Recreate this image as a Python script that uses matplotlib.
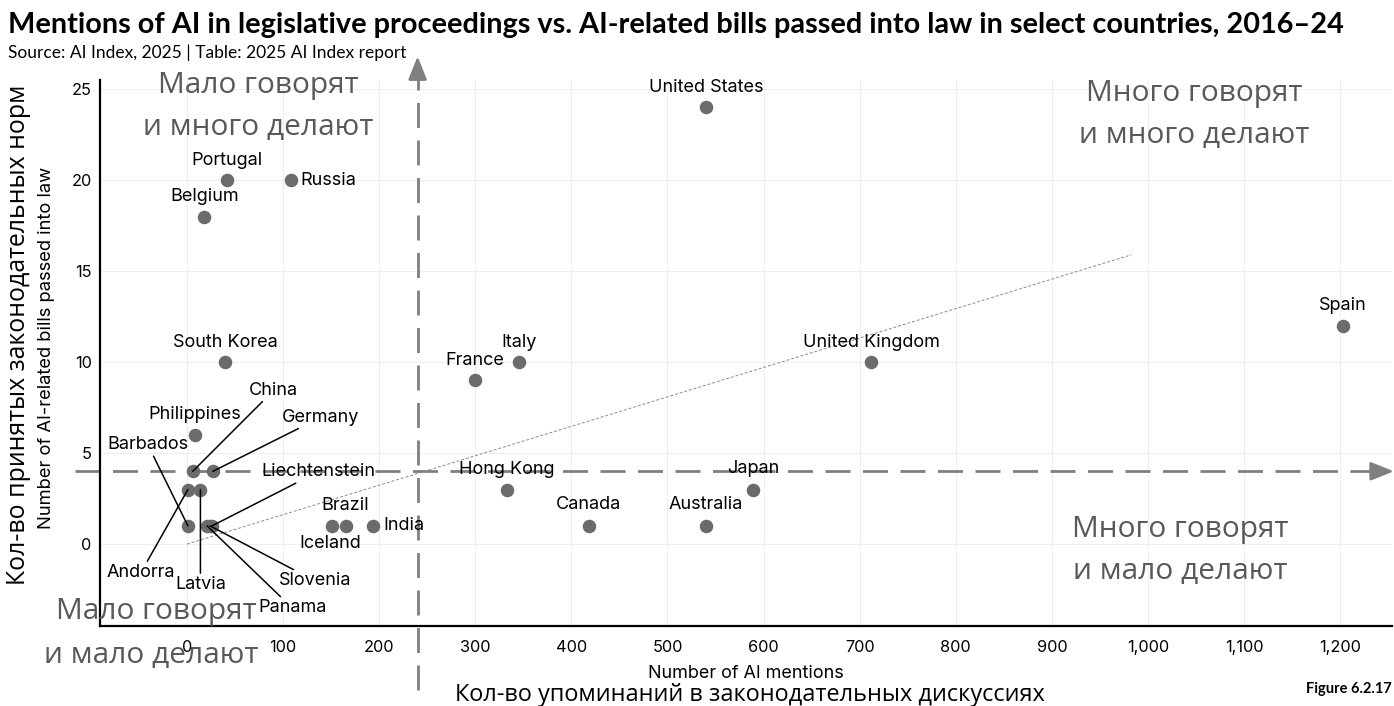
import matplotlib
matplotlib.use("Agg")
import matplotlib.pyplot as plt
from matplotlib.ticker import FuncFormatter

# ---------------- data ----------------
countries = ["United States", "Portugal", "Russia", "Belgium", "South Korea",
             "Philippines", "China", "Germany", "Andorra", "Latvia", "Barbados",
             "Liechtenstein", "Slovenia", "Panama", "Brazil", "Iceland", "India",
             "France", "Italy", "Hong Kong", "Canada", "Australia", "Japan",
             "United Kingdom", "Spain"]
mentions = [540, 42, 108, 18, 40,
            8, 6, 27, 1, 14, 1,
            26, 24, 21, 165, 151, 194,
            300, 346, 333, 418, 540, 589,
            712, 1203]
bills = [24, 20, 20, 18, 10,
         6, 4, 4, 3, 3, 1,
         1, 1, 1, 1, 1, 1,
         9, 10, 3, 1, 1, 3,
         10, 12]
trend_x = [0, 983]
trend_y = [0, 15.9]
split_mentions = 240
split_bills = 4
x_ticks = [0, 100, 200, 300, 400, 500, 600, 700, 800, 900, 1000, 1100, 1200]
y_ticks = [0, 5, 10, 15, 20, 25]

title = "Mentions of AI in legislative proceedings vs. AI-related bills passed into law in select countries, 2016–24"
subtitle = "Source: AI Index, 2025 | Table: 2025 AI Index report"
xlabel_en = "Number of AI mentions"
ylabel_en = "Number of AI-related bills passed into law"
xlabel_ru = "Кол-во упоминаний в законодательных дискуссиях"
ylabel_ru = "Кол-во принятых законодательных норм"
figure_id = "Figure 6.2.17"
quadrants = [("Мало говорят", "и много делают"), ("Много говорят", "и много делают"),
             ("Много говорят", "и мало делают"), ("Мало говорят", "и мало делают")]

# label placement (pixel offsets from the point), leader lines where needed
label_style = {
    "United States": (0, 20, False), "Portugal": (0, 20, False),
    "Russia": ("right", 0, False), "Belgium": (0, 20, False),
    "South Korea": (0, 20, False), "Philippines": (0, 20, False),
    "China": (81, 81, True), "Germany": (108, 54, True),
    "Andorra": (-47, -83, True), "Latvia": (0, -95, True),
    "Barbados": (-40, 81, True), "Liechtenstein": (106, 54, True),
    "Slovenia": (105, -55, True), "Panama": (85, -82, True),
    "Brazil": (0, 20, False), "Iceland": (-2, -18, False),
    "India": ("right", 0, False), "France": (0, 20, False),
    "Italy": (0, 20, False), "Hong Kong": (0, 20, False),
    "Canada": (0, 21, False), "Australia": (0, 21, False),
    "Japan": (0, 21, False), "United Kingdom": (0, 20, False),
    "Spain": (0, 20, False),
}

W, H = 1394, 706
fig = plt.figure(figsize=(W / 100, H / 100), dpi=100)
fig.patch.set_facecolor("white")
renderer = fig.canvas.get_renderer()

def fx(px):
    return px / W

def fy(py):
    return 1 - py / H

def size_for(text, target, family, weight="normal", base=12):
    t = fig.text(0, 0, text, fontsize=base, fontfamily=family, fontweight=weight)
    w = t.get_window_extent(renderer).width
    t.remove()
    return base * target / w

EN = "Inter"
TT = "Lato"
RU = "Open Sans"

lab_fs = size_for("United Kingdom", 137, EN)
tick_fs = size_for("1,200", 42, EN)
q_fs = size_for("Много говорят", 216, RU)

ax = fig.add_axes([fx(100), fy(626), (1392 - 100) / W, (626 - 80) / H])
ax.set_xlim(-90.5, 1254)
ax.set_ylim(-4.5, 25.5)

ax.set_xticks(x_ticks)
ax.set_yticks(y_ticks)
ax.xaxis.set_major_formatter(FuncFormatter(lambda v, p: f"{int(v):,}"))
ax.tick_params(axis="both", length=0, labelsize=tick_fs, colors="black")
ax.tick_params(axis="x", pad=10)
ax.tick_params(axis="y", pad=6)
for lab in ax.get_xticklabels() + ax.get_yticklabels():
    lab.set_fontfamily(EN)
ax.grid(True, color="#efefef", linewidth=0.8)
ax.set_axisbelow(True)
for s in ["top", "right"]:
    ax.spines[s].set_visible(False)
for s in ["left", "bottom"]:
    ax.spines[s].set_linewidth(1.6)
    ax.spines[s].set_color("black")

# trend line
ax.plot(trend_x, trend_y, color="#8a8a8a", linewidth=0.7,
        linestyle=(0, (3, 2)), zorder=2)

# quadrant dividers
dcol = "#7f7f7f"
ax.plot([split_mentions, split_mentions], [-8.0, 25.95], color=dcol, lw=2.0,
        dashes=[9, 4.5], clip_on=False, zorder=1)
ax.annotate("", xy=(split_mentions, 26.8), xytext=(split_mentions, 25.8),
            arrowprops=dict(arrowstyle="-|>,head_length=0.7,head_width=0.28",
                            color=dcol, lw=2.0, mutation_scale=20,
                            shrinkA=0, shrinkB=0),
            annotation_clip=False)
ax.plot([-117, 1240], [split_bills, split_bills], color=dcol, lw=2.0,
        dashes=[9, 4.5], clip_on=False, zorder=1)
ax.annotate("", xy=(1256, split_bills), xytext=(1238, split_bills),
            arrowprops=dict(arrowstyle="-|>,head_length=0.7,head_width=0.28",
                            color=dcol, lw=2.0, mutation_scale=20,
                            shrinkA=0, shrinkB=0),
            annotation_clip=False)

# points
ax.scatter(mentions, bills, s=95, color="#6b6b6b", zorder=3, linewidths=0)

# labels
for name, xv, yv in zip(countries, mentions, bills):
    dx, dy, leader = label_style[name]
    if dx == "right":
        ax.annotate(name, (xv, yv), xytext=(10, 0), textcoords="offset pixels",
                    ha="left", va="center", fontsize=lab_fs, fontfamily=EN,
                    zorder=4)
    elif leader:
        ax.annotate(name, (xv, yv), xytext=(dx, dy), textcoords="offset pixels",
                    ha="center", va="center", fontsize=lab_fs, fontfamily=EN,
                    arrowprops=dict(arrowstyle="-", color="black", lw=1.1,
                                    shrinkA=0, shrinkB=0),
                    zorder=4)
    else:
        ax.annotate(name, (xv, yv), xytext=(dx, dy), textcoords="offset pixels",
                    ha="center", va="center", fontsize=lab_fs, fontfamily=EN,
                    zorder=4)

# axis labels
fig.text(fx(746), fy(673), xlabel_en, ha="center", va="center",
         fontsize=size_for(xlabel_en, 196, EN), fontfamily=EN)
fig.text(fx(47), fy(348), ylabel_en, ha="center", va="center", rotation=90,
         fontsize=size_for(ylabel_en, 365, EN), fontfamily=EN)
fig.text(fx(750), fy(695), xlabel_ru, ha="center", va="center",
         fontsize=size_for(xlabel_ru, 590, RU), fontfamily=RU, color="black")
fig.text(fx(19), fy(335), ylabel_ru, ha="center", va="center", rotation=90,
         fontsize=size_for(ylabel_ru, 500, RU), fontfamily=RU, color="black")

# title & subtitle
fig.text(fx(8), fy(25), title, ha="left", va="center",
         fontsize=size_for(title, 1328, TT, "bold"), fontweight="bold",
         fontfamily=TT)
fig.text(fx(8), fy(53), subtitle, ha="left", va="center",
         fontsize=size_for(subtitle, 397, TT), fontfamily=TT)
fig.text(fx(1392), fy(689), figure_id, ha="right", va="center",
         fontsize=10.5, fontweight="bold", fontfamily=TT)

# quadrant captions
qcol = "#595959"
q_pos = [((258, 86), (258, 128)), ((1194, 94), (1194, 135)),
         ((1180, 530), (1180, 572)), ((156, 612), (151, 655))]
for (l1, l2), ((x1, y1), (x2, y2)) in zip(quadrants, q_pos):
    fig.text(fx(x1), fy(y1), l1, ha="center", va="center",
             fontsize=q_fs, fontfamily=RU, color=qcol)
    fig.text(fx(x2), fy(y2), l2, ha="center", va="center",
             fontsize=q_fs, fontfamily=RU, color=qcol)

fig.savefig("out.png", dpi=100)
